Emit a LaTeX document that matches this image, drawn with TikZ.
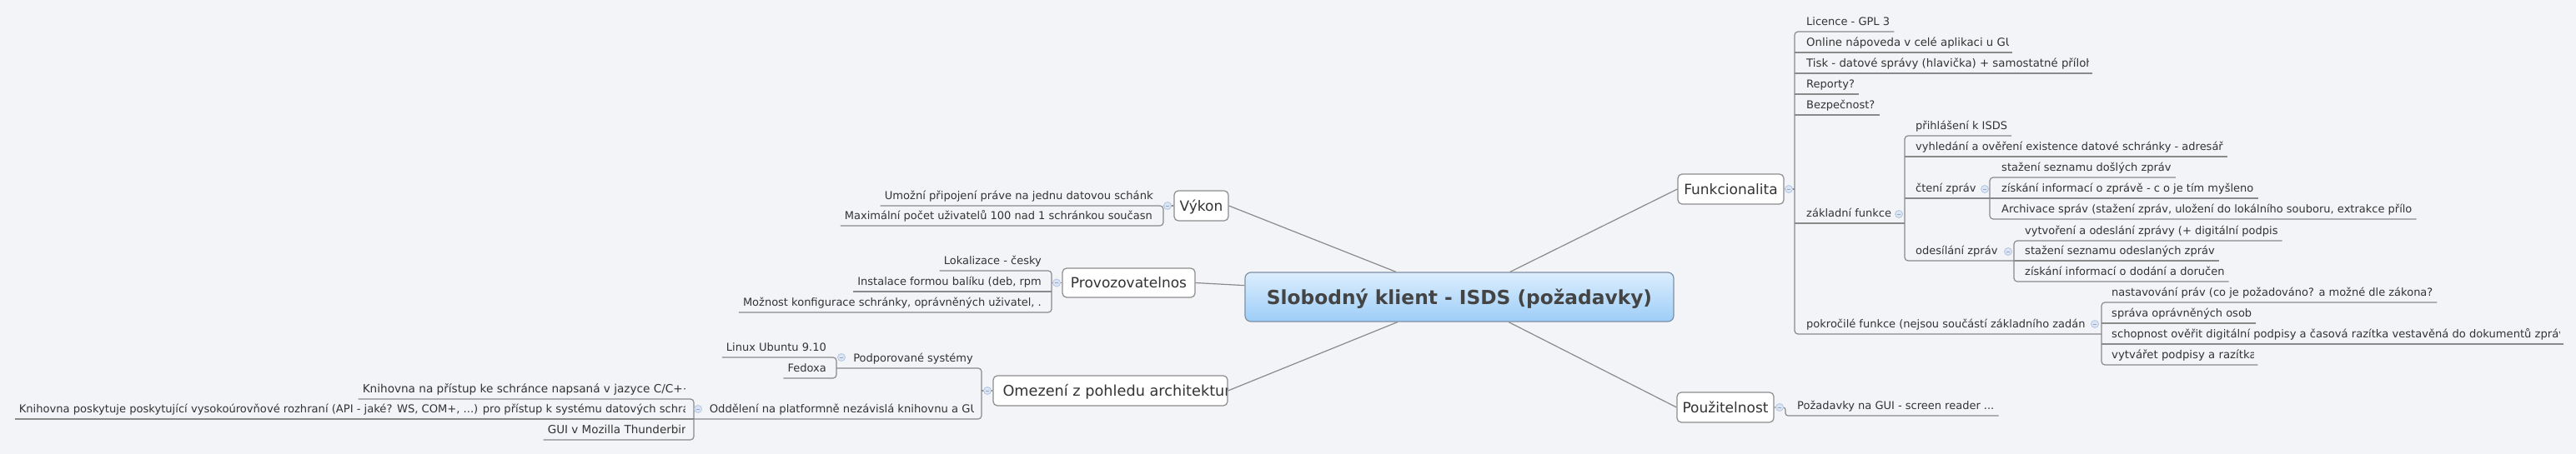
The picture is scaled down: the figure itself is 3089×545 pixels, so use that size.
\documentclass[tikz,border=0pt]{standalone}
\usepackage{fontspec}
\setmainfont{DejaVu Sans}
\definecolor{bgc}{HTML}{F3F4F8}
\definecolor{linec}{HTML}{8A8A8A}
\definecolor{boxc}{HTML}{8C8C8C}
\definecolor{textc}{HTML}{333333}
\definecolor{knobf}{HTML}{DCE5F3}
\definecolor{knobd}{HTML}{B3C5E0}
\definecolor{knobm}{HTML}{8FA6CC}
\definecolor{ctop}{HTML}{DCEEFD}
\definecolor{cbot}{HTML}{9DCDF8}
\definecolor{cbord}{HTML}{7F90A4}
\definecolor{ctext}{HTML}{444444}
\newcommand\trunc[2]{\makebox[#1pt][l]{#2}}
\tikzset{
 conn/.style={draw=linec, line width=1.2pt},
 bracket/.style={conn, rounded corners=4pt},
 leaf/.style={font=\fontsize{13}{15}\selectfont, text=textc, inner xsep=5pt, inner ysep=3.5pt, text height=10pt, text depth=3.5pt},
 leafR/.style={leaf, anchor=south west},
 leafL/.style={leaf, anchor=south east},
 cut/.style={font=\fontsize{#1}{15}\selectfont},
 topic/.style={draw=boxc, fill=white, rounded corners=5pt, line width=1.2pt, font=\fontsize{17}{20}\selectfont, text=textc, inner xsep=0pt, inner ysep=0pt, minimum height=36pt, text height=12.4pt, text depth=0pt},
 centraltopic/.style={draw=cbord, top color=ctop, bottom color=cbot, rounded corners=7pt, line width=1.2pt, font=\fontsize{23.3}{28}\selectfont\bfseries, text=ctext, minimum width=514pt, minimum height=59pt, inner sep=0pt, text height=17pt, text depth=0pt},
 knob/.style={circle, draw=knobd, fill=knobf, line width=0.8pt, minimum size=9pt, inner sep=0pt, path picture={\draw[knobm, line width=0.9pt] ([xshift=-2.3pt]path picture bounding box.center) -- ([xshift=2.3pt]path picture bounding box.center);}},
}
\begin{document}
\begin{tikzpicture}[x=1pt, y=-1pt]
\useasboundingbox (0,0) rectangle (3089,545);
\fill[bgc] (0,0) rectangle (3089,545);

% central and main topics
\node[centraltopic] (c) at (1750,356.5) {Slobodný klient - ISDS (požadavky)};
\node[topic, minimum width=65pt] (vyk) at (1440.5,247) {Výkon};
\node[topic, minimum width=159pt, minimum height=35pt] (prov) at (1353.5,339.5) {Provozovatelnos};
\node[topic, minimum width=281pt, path picture={\node[anchor=west, inner sep=0pt, font=\fontsize{17.7}{20}\selectfont, text=textc, text height=12.4pt, text depth=0pt] at ([xshift=7pt]path picture bounding box.west) {Omezení z pohledu architektur};}] (omez) at (1331.5,469) {};
\node[topic, minimum width=127pt] (funk) at (2075.5,227) {Funkcionalita};
\node[topic, minimum width=116pt] (pouz) at (2069,489) {Použitelnost};

\draw[conn] (vyk.east) -- (c);
\draw[conn] (prov.east) -- (c);
\draw[conn] (omez.east) -- (c);
\draw[conn] (funk.west) -- (c);
\draw[conn] (pouz.west) -- (c);

% bar positions
\coordinate (b1) at (2152,0);
\coordinate (b2) at (2284,0);
\coordinate (b3) at (2386,0);
\coordinate (b4) at (2415,0);
\coordinate (b5) at (2520,0);
\coordinate (b6) at (2141,0);
\coordinate (b7) at (1395,0);
\coordinate (b8) at (1261,0);
\coordinate (b9) at (1177,0);
\coordinate (b10) at (1003,0);
\coordinate (b11) at (832,0);

% ---------- right side leaves ----------
\node[leafR] (lic) at (2161,38) {Licence - GPL 3};
\begin{scope}\clip (2150,40) rectangle (2408,63);
\node[leafR, cut=13.3] (onl) at (2161,63) {\trunc{242}{Online nápoveda v celé aplikaci u GU}};
\end{scope}
\begin{scope}\clip (2150,65) rectangle (2504,88);
\node[leafR, cut=13.3] (tisk) at (2161,88) {\trunc{338}{Tisk - datové správy (hlavička) + samostatné přílohy}};
\end{scope}
\node[leafR] (rep) at (2161,113) {Reporty?};
\node[leafR] (bez) at (2161,138) {Bezpečnost?};
\node[leafR] (zakl) at (2161,268) {základní funkce};
\node[leafR] (pokr) at (2161,401) {pokročilé funkce (nejsou součástí základního zadán};

\node[leafR] (prihl) at (2292,163) {přihlášení k ISDS};
\node[leafR] (vyhl) at (2292,188) {vyhledání a ověření existence datové schránky - adresář};
\node[leafR] (cteni) at (2292,238) {čtení zpráv};
\node[leafR] (odes) at (2292,313) {odesílání zpráv};

\node[leafR] (staz1) at (2395,213) {stažení seznamu došlých zpráv};
\node[leafR] (ziskz) at (2395,238) {získání informací o zprávě - c o je tím myšleno};
\node[leafR] (arch) at (2395,263) {Archivace správ (stažení zpráv, uložení do lokálního souboru, extrakce přílo};

\node[leafR] (vytv) at (2423,289) {vytvoření a odeslání zprávy (+ digitální podpis};
\node[leafR] (staz2) at (2423,313) {stažení seznamu odeslaných zpráv};
\node[leafR] (ziskd) at (2423,338) {získání informací o dodání a doručen};

\node[leafR] (nast) at (2527,363) {nastavování práv (co je požadováno? a možné dle zákona?};
\node[leafR] (sprava) at (2527,388) {správa oprávněných osob};
\begin{scope}\clip (2520,390) rectangle (3069,413);
\node[leafR, cut=13.1] (schop) at (2527,413) {\trunc{537}{schopnost ověřit digitální podpisy a časová razítka vestavěná do dokumentů zpráv}};
\end{scope}
\begin{scope}\clip (2520,415) rectangle (2702,438);
\node[leafR, cut=13.3] (vytvp) at (2527,438) {\trunc{170}{vytvářet podpisy a razítka}};
\end{scope}

\node[leafR] (poz) at (2150,499) {Požadavky na GUI - screen reader ...};

% ---------- left side leaves ----------
\begin{scope}\clip (1040,224) rectangle (1382,247);
\node[leafL, cut=13.1] (umoz) at (1387,247) {\trunc{321}{Umožní připojení práve na jednu datovou schánky}};
\end{scope}
\node[leafL] (maxi) at (1387,271) {Maximální počet uživatelů 100 nad 1 schránkou současn};

\node[leafL] (lok) at (1254,325) {Lokalizace - česky};
\node[leafL] (inst) at (1254,350) {Instalace formou balíku (deb, rpm};
\node[leafL] (mozn) at (1254,375) {Možnost konfigurace schránky, oprávněných uživatel, .};

\node[leafL] (podp) at (1172,442) {Podporované systémy};
\begin{scope}\clip (830,480) rectangle (1167,503);
\node[leafL, cut=13.15] (odd) at (1172,503) {\trunc{316}{Oddělení na platformně nezávislá knihovnu a GU}};
\end{scope}

\node[leafL] (lin) at (996,429) {Linux Ubuntu 9.10};
\node[leafL] (fed) at (996,454) {Fedoxa};

\begin{scope}\clip (420,456) rectangle (821,479);
\node[leafL, cut=13.6] (kn1) at (826,479) {\trunc{386}{Knihovna na přístup ke schránce napsaná v jazyce C/C++}};
\end{scope}
\begin{scope}\clip (5,481) rectangle (821,503);
\node[leafL, cut=13.1] (kn2) at (826,503) {\trunc{798}{Knihovna poskytuje poskytující vysokoúrovňové rozhraní (API - jaké? WS, COM+, ...) pro přístup k systému datových schrá}};
\end{scope}
\begin{scope}\clip (640,505) rectangle (821,528);
\node[leafL, cut=13.5] (gui) at (826,528) {\trunc{164}{GUI v Mozilla Thunderbir}};
\end{scope}

% ---------- brackets right ----------
\draw[conn] (funk.east) -- (funk.east -| b1);
\draw[bracket] (lic.south east) -- (lic.south east -| b1) -- (b1 |- pokr.south) -- (b5 |- pokr.south);
\foreach \n in {onl,tisk,rep,bez} \draw[conn] (\n.south east) -- (\n.south east -| b1);
\draw[conn] (b1 |- zakl.south) -- (b2 |- zakl.south);

\draw[bracket] (prihl.south east) -- (prihl.south east -| b2) -- (b2 |- odes.south) -- (b4 |- odes.south);
\draw[conn] (vyhl.south east) -- (vyhl.south east -| b2);
\draw[conn] (b2 |- cteni.south) -- (b3 |- cteni.south);

\draw[bracket] (staz1.south east) -- (staz1.south east -| b3) -- (b3 |- arch.south) -- (arch.south east);
\draw[conn] (ziskz.south east) -- (ziskz.south east -| b3);

\draw[bracket] (vytv.south east) -- (vytv.south east -| b4) -- (b4 |- ziskd.south) -- (ziskd.south east);
\draw[conn] (staz2.south east) -- (staz2.south east -| b4);

\draw[bracket] (nast.south east) -- (nast.south east -| b5) -- (b5 |- vytvp.south) -- (vytvp.south east);
\foreach \n in {sprava,schop} \draw[conn] (\n.south east) -- (\n.south east -| b5);

\draw[conn, rounded corners=3pt] (pouz.east) -- (pouz.east -| b6) -- (b6 |- poz.south) -- (poz.south east);

% ---------- brackets left ----------
\draw[conn] (vyk.west) -- (vyk.west -| b7);
\draw[bracket] (umoz.south west) -- (b7 |- umoz.south) -- (b7 |- maxi.south) -- (maxi.south west);

\draw[conn] (prov.west) -- (prov.west -| b8);
\draw[bracket] (lok.south west) -- (b8 |- lok.south) -- (b8 |- mozn.south) -- (mozn.south west);
\draw[conn] (inst.south west) -- (b8 |- inst.south);

\draw[conn] (omez.west) -- (omez.west -| b9);
\draw[bracket] (b10 |- podp.south) -- (b9 |- podp.south) -- (b9 |- odd.south) -- (b11 |- odd.south);

\draw[bracket] (lin.south west) -- (b10 |- lin.south) -- (b10 |- fed.south) -- (fed.south west);

\draw[bracket] (kn1.south west) -- (b11 |- kn1.south) -- (b11 |- gui.south) -- (gui.south west);
\draw[conn] (kn2.south west) -- (b11 |- kn2.south);

% ---------- knobs ----------
\node[knob] (kvyk) at (1400,247) {};
\node[knob] (kprov) at (1267,339.5) {};
\node[knob] (komez) at (1184,469) {};
\node[knob] (kpodp) at (1009,429) {};
\node[knob] (kodd) at (837,491) {};
\node[knob] (kfunk) at (2145,227) {};
\node[knob] (kzakl) at (2277,257) {};
\node[knob] (kcteni) at (2380,227) {};
\node[knob] (kodes) at (2408,302) {};
\node[knob] (kpokr) at (2512,389) {};
\node[knob] (kpouz) at (2134,489) {};
\end{tikzpicture}
\end{document}
